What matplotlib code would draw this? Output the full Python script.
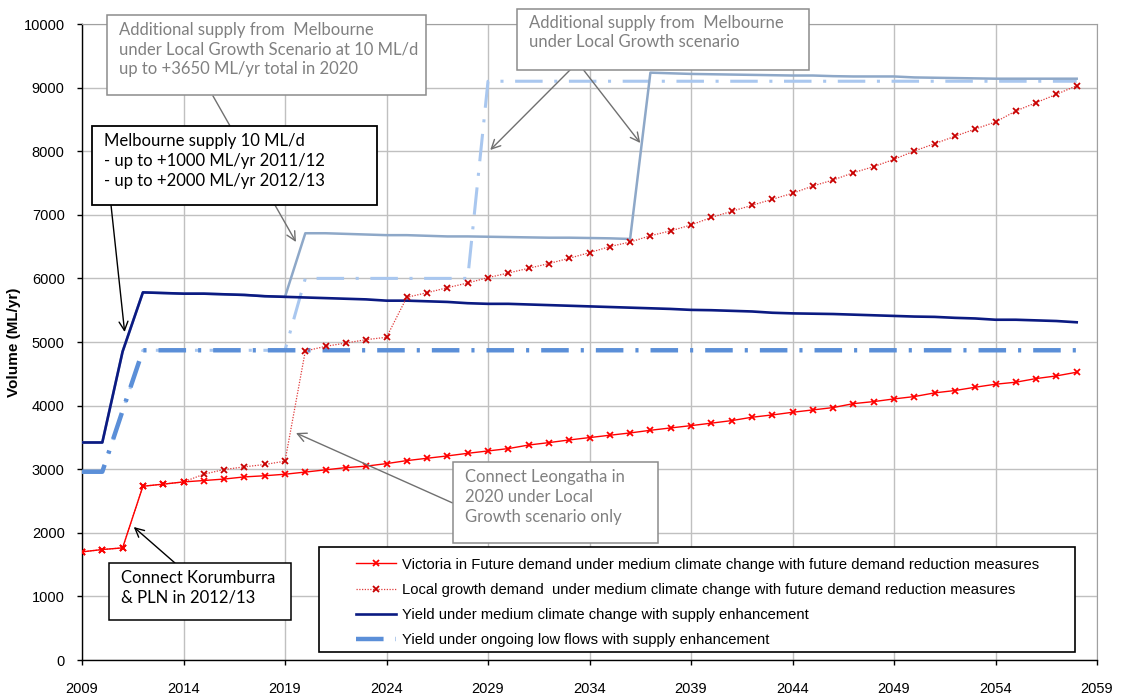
import matplotlib
matplotlib.use("Agg")
import matplotlib.pyplot as plt
from matplotlib.patches import Rectangle

plt.rcParams['font.family'] = ['Liberation Sans', 'DejaVu Sans']

years = list(range(2009, 2059))

# Victoria in Future demand, medium climate change
vif_demand = [1700, 1737, 1763, 2732, 2765, 2800, 2822, 2845, 2879, 2897,
              2921, 2955, 2990, 3025, 3048, 3088, 3135, 3172, 3209, 3250,
              3287, 3324, 3380, 3418, 3460, 3497, 3534, 3570, 3612, 3649,
              3685, 3724, 3764, 3817, 3853, 3895, 3932, 3969, 4031, 4063,
              4105, 4142, 4200, 4237, 4289, 4336, 4368, 4425, 4467, 4525]

# Local growth demand, medium climate change
local_demand = [1700, 1737, 1763, 2732, 2765, 2800, 2921, 2995, 3037, 3074,
                3126, 4858, 4932, 4984, 5037, 5074, 5703, 5775, 5854, 5928,
                6012, 6085, 6159, 6233, 6317, 6405, 6500, 6572, 6671, 6748,
                6840, 6958, 7055, 7149, 7244, 7338, 7453, 7547, 7662, 7757,
                7872, 8003, 8118, 8234, 8349, 8459, 8632, 8763, 8894, 9030]

# Yield, medium climate change with supply enhancement
yield_mcc = [3420, 3420, 4850, 5780, 5770, 5760, 5760, 5750, 5740, 5720,
             5710, 5700, 5690, 5680, 5670, 5650, 5650, 5640, 5630, 5610,
             5600, 5600, 5590, 5580, 5570, 5560, 5550, 5540, 5530, 5520,
             5505, 5500, 5490, 5480, 5460, 5450, 5445, 5440, 5430, 5420,
             5410, 5400, 5395, 5380, 5370, 5350, 5350, 5340, 5330, 5310]

# Yield, ongoing low flows with supply enhancement
yield_low = [2960, 2960, 3920, 4870, 4870, 4870, 4870, 4870, 4870, 4870,
             4870, 4870, 4870, 4870, 4870, 4870, 4870, 4870, 4870, 4870,
             4870, 4870, 4870, 4870, 4870, 4870, 4870, 4870, 4870, 4870,
             4870, 4870, 4870, 4870, 4870, 4870, 4870, 4870, 4870, 4870,
             4870, 4870, 4870, 4870, 4870, 4870, 4870, 4870, 4870, 4870]

# Additional Melbourne supply under Local Growth (not in legend)
yield_mcc_local = [3420, 3420, 4850, 5780, 5770, 5760, 5760, 5750, 5740, 5720,
                   5710, 6710, 6710, 6700, 6690, 6680, 6680, 6670, 6660, 6660,
                   6655, 6650, 6645, 6640, 6640, 6635, 6630, 6620, 9235, 9225,
                   9215, 9210, 9205, 9200, 9195, 9190, 9190, 9180, 9175, 9175,
                   9175, 9160, 9155, 9150, 9145, 9140, 9140, 9140, 9140, 9140]

yield_low_local = [2960, 2960, 3920, 4870, 4870, 4870, 4870, 4870, 4870, 4870,
                   4870, 6000, 6000, 6000, 6000, 6000, 6000, 6000, 6000, 6000,
                   9100, 9100, 9100, 9100, 9100, 9100, 9100, 9100, 9100, 9100,
                   9100, 9100, 9100, 9100, 9100, 9100, 9100, 9100, 9100, 9100,
                   9100, 9100, 9100, 9100, 9100, 9100, 9100, 9100, 9100, 9100]

legend_labels = [
    "Victoria in Future demand under medium climate change with future demand reduction measures",
    "Local growth demand  under medium climate change with future demand reduction measures",
    "Yield under medium climate change with supply enhancement",
    "Yield under ongoing low flows with supply enhancement",
]

GREY_TXT = "#808080"
GREY_EDGE = "#8c8c8c"
ANN_FONT = ['Lato', 'DejaVu Sans']
ANN_SIZE = 12

fig = plt.figure(figsize=(11.23, 6.95), dpi=100)
ax = fig.add_axes([82 / 1123, 35 / 695, 1015 / 1123, 636 / 695])

ax.plot(years, yield_low_local, color="#a9c7ef", lw=2.2,
        linestyle=(0, (9, 3.8, 1, 3.8)), zorder=2)
ax.plot(years, yield_mcc_local, color="#8ea8c8", lw=1.8, zorder=3)
l4, = ax.plot(years, yield_low, color="#5b8fd8", lw=3.2,
              linestyle=(0, (6.2, 2.7, 0.7, 2.7)), zorder=4)
l3, = ax.plot(years, yield_mcc, color="#0b1a82", lw=1.9, zorder=5)
l2, = ax.plot(years, local_demand, color="#e03a3a", lw=0.9, linestyle=(0, (1, 1.2)),
              marker="x", ms=3.8, mew=1.3, mec="#c80000", zorder=6)
l1, = ax.plot(years, vif_demand, color="#ff0000", lw=1.0,
              marker="x", ms=3.8, mew=1.3, mec="#ff0000", zorder=7)

ax.set_xlim(2009, 2059)
ax.set_ylim(0, 10000)
ax.set_xticks(range(2009, 2060, 5))
ax.set_yticks(range(0, 10001, 1000))
ax.grid(True, color="#c0c0c0", lw=1.0)
ax.set_axisbelow(True)
for side in ["top", "right"]:
    ax.spines[side].set_color("#a0a0a0")
for side in ["left", "bottom"]:
    ax.spines[side].set_color("black")
    ax.spines[side].set_linewidth(1.0)
ax.tick_params(axis="both", direction="out", length=3.5, width=1, labelsize=10.5)
ax.tick_params(axis="y", pad=9)
ax.tick_params(axis="x", pad=12)
ax.set_ylabel("Volume (ML/yr)", fontsize=11, fontweight="bold", labelpad=2)

# legend, with its own box
leg = ax.legend([l1, l2, l3, l4], legend_labels, loc="upper left",
                bbox_to_anchor=(0.27, 0.161), frameon=False, fontsize=10.6,
                handlelength=2.7, handletextpad=0.45, labelspacing=0.76,
                borderpad=0, borderaxespad=0)
leg.set_zorder(20)
ax.add_patch(Rectangle((0.2335, 0.0126), 0.7445, 0.1651, transform=ax.transAxes,
                       facecolor="white", edgecolor="black", lw=1.2, zorder=19,
                       clip_on=False))


def text_box(x0, y0, x1, y1, text, color, edge, lw, zorder=30, linespacing=1.27):
    ax.add_patch(Rectangle((x0, y0), x1 - x0, y1 - y0, transform=ax.transAxes,
                           facecolor="white", edgecolor=edge, lw=lw,
                           zorder=zorder, clip_on=False))
    ax.text(x0 + 0.0118, y1 - 0.0105, text, transform=ax.transAxes, ha="left", va="top",
            color=color, family=ANN_FONT, fontsize=ANN_SIZE, linespacing=linespacing,
            zorder=zorder + 1, clip_on=False)


def arrow(xy, tail, color, zorder):
    ax.annotate("", xy=xy, xycoords="data", xytext=tail, textcoords="axes fraction",
                arrowprops=dict(arrowstyle="->", color=color, lw=1.0,
                                mutation_scale=16, shrinkA=0, shrinkB=0),
                zorder=zorder, annotation_clip=False)


# box 1 (behind the black Melbourne box)
arrow((2019.54, 6572), (0.129, 0.887), "#707070", 25)
text_box(0.0246, 0.888, 0.339, 1.014,
         "Additional supply from  Melbourne\nunder Local Growth Scenario at 10 ML/d\n"
         "up to +3650 ML/yr total in 2020", GREY_TXT, GREY_EDGE, 1.1, zorder=26)

arrow((2011.1, 5157), (0.0286, 0.715), "black", 35)
text_box(0.00985, 0.7154, 0.2903, 0.8396,
         "Melbourne supply 10 ML/d\n- up to +1000 ML/yr 2011/12\n- up to +2000 ML/yr 2012/13",
         "black", "black", 1.3, zorder=36, linespacing=1.32)

arrow((2029.11, 8019), (0.481, 0.928), "#707070", 25)
arrow((2036.5, 8129), (0.494, 0.928), "#707070", 25)
text_box(0.4283, 0.9272, 0.7165, 1.024,
         "Additional supply from  Melbourne\nunder Local Growth scenario",
         GREY_TXT, GREY_EDGE, 1.1, zorder=26, linespacing=1.2)

arrow((2019.54, 3569), (0.365, 0.247), "#707070", 25)
text_box(0.3658, 0.1844, 0.5675, 0.3113,
         "Connect Leongatha in\n2020 under Local\nGrowth scenario only",
         GREY_TXT, GREY_EDGE, 1.1, zorder=26, linespacing=1.32)

arrow((2011.55, 2091), (0.0916, 0.1525), "black", 25)
text_box(0.0266, 0.0629, 0.2059, 0.152,
         "Connect Korumburra\n& PLN in 2012/13", "black", "black", 1.1, zorder=26,
         linespacing=1.3)

fig.savefig("out.png", dpi=100)
